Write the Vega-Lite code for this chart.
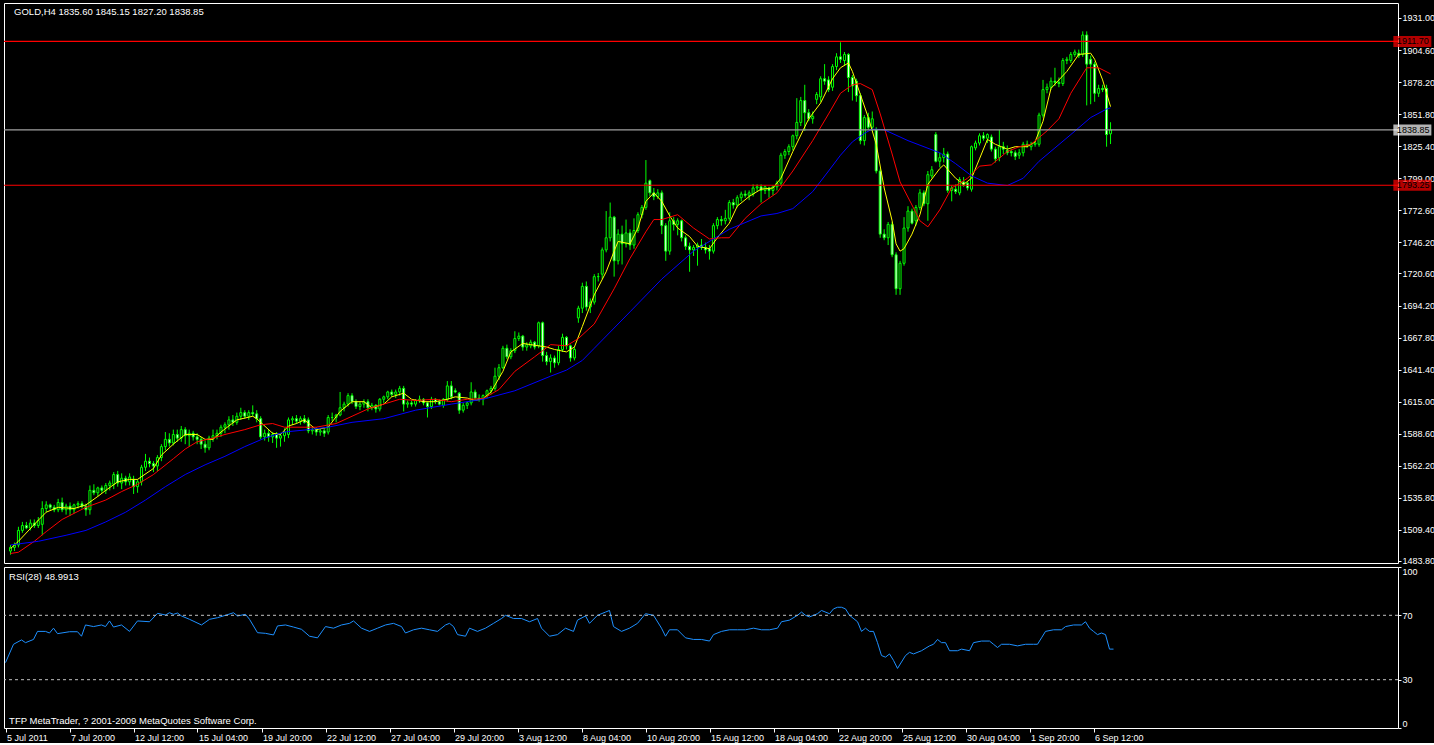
{
"$schema": "https://vega.github.io/schema/vega-lite/v6.json",
"background": "black",
"padding": {"left": 2, "top": 2, "right": 0, "bottom": 0},
"bounds": "flush",
"spacing": 4,
"config": {
 "view": {"stroke": "white", "strokeWidth": 1},
 "font": "Liberation Sans",
 "axis": {"grid": false, "domain": false, "labelColor": "white", "tickColor": "white", "labelFont": "Liberation Sans", "labelFontSize": 9, "labelOverlap": false, "labelBound": false}
},
"datasets": {
"bars": [
{"k":0,"o":1492,"h":1497,"l":1489,"c":1495},{"k":1,"o":1495,"h":1499,"l":1492,"c":1497},{"k":2,"o":1497,"h":1512,"l":1495,"c":1509},{"k":3,"o":1509,"h":1516,"l":1507,"c":1513},{"k":4,"o":1513,"h":1516,"l":1510,"c":1511},{"k":5,"o":1511,"h":1518,"l":1509,"c":1515},{"k":6,"o":1515,"h":1518,"l":1511,"c":1513},{"k":7,"o":1513,"h":1520,"l":1511,"c":1517},{"k":8,"o":1514,"h":1533,"l":1505,"c":1527},{"k":9,"o":1527,"h":1533,"l":1524,"c":1530},
{"k":10,"o":1530,"h":1531,"l":1526,"c":1528},{"k":11,"o":1528,"h":1530,"l":1524,"c":1526},{"k":12,"o":1526,"h":1535,"l":1524,"c":1532},{"k":13,"o":1532,"h":1536,"l":1524,"c":1526},{"k":14,"o":1526,"h":1531,"l":1522,"c":1529},{"k":15,"o":1529,"h":1532,"l":1521,"c":1526},{"k":16,"o":1526,"h":1531,"l":1523,"c":1530},{"k":17,"o":1530,"h":1533,"l":1527,"c":1531},{"k":18,"o":1531,"h":1533,"l":1527,"c":1529},{"k":19,"o":1529,"h":1531,"l":1521,"c":1526},
{"k":20,"o":1526,"h":1546,"l":1522,"c":1542},{"k":21,"o":1542,"h":1547,"l":1538,"c":1540},{"k":22,"o":1540,"h":1545,"l":1537,"c":1544},{"k":23,"o":1544,"h":1546,"l":1540,"c":1542},{"k":24,"o":1542,"h":1548,"l":1539,"c":1546},{"k":25,"o":1546,"h":1550,"l":1542,"c":1548},{"k":26,"o":1547,"h":1557,"l":1543,"c":1555},{"k":27,"o":1555,"h":1558,"l":1545,"c":1548},{"k":28,"o":1548,"h":1556,"l":1543,"c":1552},{"k":29,"o":1552,"h":1554,"l":1546,"c":1549},
{"k":30,"o":1549,"h":1556,"l":1546,"c":1553},{"k":31,"o":1551,"h":1554,"l":1539,"c":1545},{"k":32,"o":1545,"h":1551,"l":1540,"c":1549},{"k":33,"o":1549,"h":1563,"l":1546,"c":1561},{"k":34,"o":1561,"h":1572,"l":1558,"c":1566},{"k":35,"o":1566,"h":1569,"l":1561,"c":1564},{"k":36,"o":1564,"h":1566,"l":1557,"c":1562},{"k":37,"o":1562,"h":1571,"l":1558,"c":1569},{"k":38,"o":1569,"h":1580,"l":1566,"c":1578},{"k":39,"o":1578,"h":1590,"l":1575,"c":1584},
{"k":40,"o":1584,"h":1589,"l":1578,"c":1581},{"k":41,"o":1581,"h":1592,"l":1579,"c":1588},{"k":42,"o":1588,"h":1592,"l":1582,"c":1585},{"k":43,"o":1585,"h":1595,"l":1582,"c":1592},{"k":44,"o":1592,"h":1594,"l":1580,"c":1587},{"k":45,"o":1587,"h":1592,"l":1578,"c":1589},{"k":46,"o":1589,"h":1591,"l":1583,"c":1586},{"k":47,"o":1586,"h":1589,"l":1580,"c":1584},{"k":48,"o":1584,"h":1586,"l":1576,"c":1580},{"k":49,"o":1580,"h":1583,"l":1573,"c":1577},
{"k":50,"o":1577,"h":1587,"l":1575,"c":1585},{"k":51,"o":1585,"h":1592,"l":1582,"c":1587},{"k":52,"o":1587,"h":1592,"l":1584,"c":1589},{"k":53,"o":1589,"h":1596,"l":1586,"c":1594},{"k":54,"o":1594,"h":1598,"l":1589,"c":1596},{"k":55,"o":1596,"h":1603,"l":1592,"c":1600},{"k":56,"o":1600,"h":1604,"l":1595,"c":1598},{"k":57,"o":1598,"h":1606,"l":1596,"c":1603},{"k":58,"o":1603,"h":1610,"l":1600,"c":1606},{"k":59,"o":1606,"h":1608,"l":1601,"c":1603},
{"k":60,"o":1603,"h":1608,"l":1600,"c":1606},{"k":61,"o":1606,"h":1612,"l":1603,"c":1605},{"k":62,"o":1605,"h":1608,"l":1598,"c":1601},{"k":63,"o":1601,"h":1603,"l":1584,"c":1586},{"k":64,"o":1586,"h":1592,"l":1583,"c":1589},{"k":65,"o":1589,"h":1592,"l":1582,"c":1586},{"k":66,"o":1586,"h":1590,"l":1581,"c":1588},{"k":67,"o":1588,"h":1590,"l":1577,"c":1585},{"k":68,"o":1585,"h":1589,"l":1578,"c":1587},{"k":69,"o":1587,"h":1593,"l":1582,"c":1590},
{"k":70,"o":1588,"h":1602,"l":1585,"c":1600},{"k":71,"o":1600,"h":1603,"l":1596,"c":1601},{"k":72,"o":1601,"h":1604,"l":1597,"c":1599},{"k":73,"o":1599,"h":1603,"l":1596,"c":1601},{"k":74,"o":1601,"h":1604,"l":1597,"c":1598},{"k":75,"o":1600,"h":1602,"l":1589,"c":1591},{"k":76,"o":1591,"h":1594,"l":1588,"c":1592},{"k":77,"o":1592,"h":1594,"l":1587,"c":1590},{"k":78,"o":1590,"h":1593,"l":1587,"c":1591},{"k":79,"o":1591,"h":1593,"l":1586,"c":1589},
{"k":80,"o":1590,"h":1604,"l":1588,"c":1602},{"k":81,"o":1602,"h":1606,"l":1599,"c":1602},{"k":82,"o":1602,"h":1605,"l":1598,"c":1604},{"k":83,"o":1604,"h":1623,"l":1603,"c":1610},{"k":84,"o":1610,"h":1615,"l":1607,"c":1613},{"k":85,"o":1613,"h":1622,"l":1611,"c":1620},{"k":86,"o":1620,"h":1622,"l":1613,"c":1615},{"k":87,"o":1615,"h":1617,"l":1609,"c":1611},{"k":88,"o":1611,"h":1615,"l":1608,"c":1613},{"k":89,"o":1613,"h":1617,"l":1610,"c":1615},
{"k":90,"o":1615,"h":1617,"l":1607,"c":1610},{"k":91,"o":1610,"h":1614,"l":1608,"c":1612},{"k":92,"o":1612,"h":1613,"l":1606,"c":1609},{"k":93,"o":1609,"h":1618,"l":1607,"c":1617},{"k":94,"o":1617,"h":1620,"l":1614,"c":1619},{"k":95,"o":1619,"h":1624,"l":1617,"c":1623},{"k":96,"o":1623,"h":1625,"l":1619,"c":1621},{"k":97,"o":1621,"h":1625,"l":1618,"c":1623},{"k":98,"o":1623,"h":1628,"l":1620,"c":1626},{"k":99,"o":1626,"h":1628,"l":1607,"c":1613},
{"k":100,"o":1613,"h":1616,"l":1610,"c":1614},{"k":101,"o":1614,"h":1616,"l":1611,"c":1613},{"k":102,"o":1613,"h":1617,"l":1611,"c":1616},{"k":103,"o":1616,"h":1620,"l":1614,"c":1617},{"k":104,"o":1617,"h":1618,"l":1612,"c":1614},{"k":105,"o":1614,"h":1615,"l":1602,"c":1611},{"k":106,"o":1611,"h":1619,"l":1609,"c":1617},{"k":107,"o":1617,"h":1618,"l":1613,"c":1615},{"k":108,"o":1615,"h":1617,"l":1612,"c":1613},{"k":109,"o":1612,"h":1618,"l":1610,"c":1617},
{"k":110,"o":1617,"h":1632,"l":1615,"c":1628},{"k":111,"o":1628,"h":1632,"l":1617,"c":1619},{"k":112,"o":1624,"h":1626,"l":1622,"c":1623},{"k":113,"o":1622,"h":1623,"l":1605,"c":1608},{"k":114,"o":1608,"h":1614,"l":1606,"c":1612},{"k":115,"o":1612,"h":1615,"l":1609,"c":1614},{"k":116,"o":1614,"h":1631,"l":1612,"c":1623},{"k":117,"o":1623,"h":1625,"l":1616,"c":1618},{"k":118,"o":1618,"h":1621,"l":1615,"c":1617},{"k":119,"o":1617,"h":1621,"l":1612,"c":1620},
{"k":120,"o":1620,"h":1625,"l":1618,"c":1624},{"k":121,"o":1624,"h":1628,"l":1621,"c":1626},{"k":122,"o":1626,"h":1643,"l":1624,"c":1636},{"k":123,"o":1636,"h":1646,"l":1633,"c":1643},{"k":124,"o":1643,"h":1661,"l":1642,"c":1659},{"k":125,"o":1659,"h":1662,"l":1650,"c":1652},{"k":126,"o":1652,"h":1659,"l":1650,"c":1657},{"k":127,"o":1657,"h":1673,"l":1655,"c":1667},{"k":128,"o":1667,"h":1672,"l":1665,"c":1669},{"k":129,"o":1669,"h":1670,"l":1657,"c":1660},
{"k":130,"o":1660,"h":1664,"l":1657,"c":1662},{"k":131,"o":1661,"h":1666,"l":1659,"c":1664},{"k":132,"o":1664,"h":1665,"l":1658,"c":1660},{"k":133,"o":1661,"h":1681,"l":1659,"c":1680},{"k":134,"o":1680,"h":1681,"l":1648,"c":1653},{"k":135,"o":1653,"h":1656,"l":1645,"c":1648},{"k":136,"o":1648,"h":1654,"l":1639,"c":1651},{"k":137,"o":1651,"h":1653,"l":1643,"c":1647},{"k":138,"o":1647,"h":1661,"l":1645,"c":1658},{"k":139,"o":1658,"h":1671,"l":1656,"c":1668},
{"k":140,"o":1668,"h":1669,"l":1658,"c":1661},{"k":141,"o":1661,"h":1662,"l":1648,"c":1651},{"k":142,"o":1651,"h":1660,"l":1649,"c":1658},{"k":143,"o":1684,"h":1694,"l":1680,"c":1692},{"k":144,"o":1692,"h":1713,"l":1688,"c":1710},{"k":145,"o":1710,"h":1714,"l":1690,"c":1693},{"k":146,"o":1693,"h":1700,"l":1688,"c":1697},{"k":147,"o":1697,"h":1720,"l":1695,"c":1718},{"k":148,"o":1718,"h":1721,"l":1714,"c":1718},{"k":149,"o":1720,"h":1742,"l":1716,"c":1740},
{"k":150,"o":1740,"h":1772,"l":1738,"c":1750},{"k":151,"o":1750,"h":1779,"l":1747,"c":1767},{"k":152,"o":1767,"h":1768,"l":1718,"c":1731},{"k":153,"o":1731,"h":1757,"l":1728,"c":1753},{"k":154,"o":1753,"h":1760,"l":1728,"c":1745},{"k":155,"o":1745,"h":1765,"l":1742,"c":1754},{"k":156,"o":1754,"h":1757,"l":1740,"c":1744},{"k":157,"o":1744,"h":1766,"l":1741,"c":1756},{"k":158,"o":1756,"h":1771,"l":1754,"c":1769},{"k":159,"o":1769,"h":1777,"l":1766,"c":1775},
{"k":160,"o":1775,"h":1814,"l":1773,"c":1795},{"k":161,"o":1797,"h":1798,"l":1784,"c":1787},{"k":162,"o":1787,"h":1791,"l":1781,"c":1784},{"k":163,"o":1784,"h":1790,"l":1782,"c":1787},{"k":164,"o":1787,"h":1789,"l":1753,"c":1760},{"k":165,"o":1760,"h":1762,"l":1731,"c":1739},{"k":166,"o":1739,"h":1771,"l":1736,"c":1764},{"k":167,"o":1764,"h":1767,"l":1756,"c":1761},{"k":168,"o":1761,"h":1766,"l":1752,"c":1764},{"k":169,"o":1764,"h":1765,"l":1747,"c":1750},
{"k":170,"o":1750,"h":1752,"l":1740,"c":1743},{"k":171,"o":1743,"h":1746,"l":1722,"c":1740},{"k":172,"o":1740,"h":1744,"l":1735,"c":1742},{"k":173,"o":1742,"h":1746,"l":1727,"c":1744},{"k":174,"o":1744,"h":1749,"l":1740,"c":1742},{"k":175,"o":1742,"h":1746,"l":1737,"c":1740},{"k":176,"o":1741,"h":1744,"l":1732,"c":1739},{"k":177,"o":1739,"h":1762,"l":1737,"c":1760},{"k":178,"o":1760,"h":1767,"l":1757,"c":1765},{"k":179,"o":1765,"h":1768,"l":1760,"c":1764},
{"k":180,"o":1764,"h":1773,"l":1761,"c":1766},{"k":181,"o":1766,"h":1781,"l":1764,"c":1779},{"k":182,"o":1779,"h":1782,"l":1774,"c":1777},{"k":183,"o":1777,"h":1785,"l":1775,"c":1783},{"k":184,"o":1783,"h":1788,"l":1780,"c":1786},{"k":185,"o":1786,"h":1789,"l":1783,"c":1785},{"k":186,"o":1785,"h":1789,"l":1781,"c":1787},{"k":187,"o":1786,"h":1794,"l":1784,"c":1791},{"k":188,"o":1791,"h":1794,"l":1788,"c":1792},{"k":189,"o":1792,"h":1794,"l":1779,"c":1789},
{"k":190,"o":1789,"h":1793,"l":1786,"c":1792},{"k":191,"o":1791,"h":1792,"l":1783,"c":1789},{"k":192,"o":1789,"h":1793,"l":1785,"c":1792},{"k":193,"o":1792,"h":1797,"l":1789,"c":1795},{"k":194,"o":1795,"h":1820,"l":1793,"c":1818},{"k":195,"o":1818,"h":1823,"l":1815,"c":1821},{"k":196,"o":1821,"h":1827,"l":1818,"c":1825},{"k":197,"o":1825,"h":1835,"l":1822,"c":1834},{"k":198,"o":1834,"h":1865,"l":1831,"c":1845},{"k":199,"o":1845,"h":1866,"l":1842,"c":1863},
{"k":200,"o":1863,"h":1876,"l":1838,"c":1853},{"k":201,"o":1853,"h":1856,"l":1846,"c":1848},{"k":202,"o":1848,"h":1854,"l":1844,"c":1850},{"k":203,"o":1864,"h":1870,"l":1860,"c":1868},{"k":204,"o":1866,"h":1883,"l":1862,"c":1881},{"k":205,"o":1881,"h":1893,"l":1876,"c":1879},{"k":206,"o":1880,"h":1883,"l":1870,"c":1872},{"k":207,"o":1874,"h":1893,"l":1871,"c":1891},{"k":208,"o":1891,"h":1902,"l":1888,"c":1899},{"k":209,"o":1899,"h":1911,"l":1894,"c":1897},
{"k":210,"o":1896,"h":1903,"l":1892,"c":1901},{"k":211,"o":1901,"h":1902,"l":1870,"c":1882},{"k":212,"o":1882,"h":1884,"l":1863,"c":1875},{"k":213,"o":1879,"h":1881,"l":1862,"c":1867},{"k":214,"o":1867,"h":1869,"l":1827,"c":1830},{"k":215,"o":1830,"h":1851,"l":1826,"c":1849},{"k":216,"o":1849,"h":1853,"l":1839,"c":1841},{"k":217,"o":1841,"h":1854,"l":1838,"c":1848},{"k":218,"o":1839,"h":1841,"l":1803,"c":1805},{"k":219,"o":1805,"h":1807,"l":1750,"c":1753},
{"k":220,"o":1753,"h":1757,"l":1748,"c":1750},{"k":221,"o":1750,"h":1763,"l":1744,"c":1761},{"k":222,"o":1761,"h":1763,"l":1734,"c":1736},{"k":223,"o":1736,"h":1738,"l":1703,"c":1708},{"k":224,"o":1708,"h":1731,"l":1703,"c":1729},{"k":225,"o":1729,"h":1767,"l":1727,"c":1758},{"k":226,"o":1758,"h":1776,"l":1755,"c":1772},{"k":227,"o":1772,"h":1774,"l":1761,"c":1762},{"k":228,"o":1764,"h":1777,"l":1760,"c":1775},{"k":229,"o":1775,"h":1790,"l":1773,"c":1787},
{"k":230,"o":1787,"h":1789,"l":1776,"c":1778},{"k":231,"o":1778,"h":1805,"l":1764,"c":1802},{"k":232,"o":1801,"h":1809,"l":1799,"c":1806},{"k":233,"o":1835,"h":1837,"l":1812,"c":1813},{"k":234,"o":1813,"h":1820,"l":1808,"c":1816},{"k":235,"o":1816,"h":1824,"l":1812,"c":1819},{"k":236,"o":1819,"h":1821,"l":1787,"c":1789},{"k":237,"o":1789,"h":1793,"l":1780,"c":1791},{"k":238,"o":1790,"h":1794,"l":1786,"c":1788},{"k":239,"o":1787,"h":1800,"l":1785,"c":1798},
{"k":240,"o":1796,"h":1800,"l":1792,"c":1793},{"k":241,"o":1795,"h":1796,"l":1789,"c":1791},{"k":242,"o":1790,"h":1826,"l":1788,"c":1825},{"k":243,"o":1824,"h":1830,"l":1822,"c":1828},{"k":244,"o":1828,"h":1836,"l":1826,"c":1834},{"k":245,"o":1834,"h":1837,"l":1830,"c":1832},{"k":246,"o":1832,"h":1836,"l":1828,"c":1835},{"k":247,"o":1833,"h":1835,"l":1821,"c":1823},{"k":248,"o":1823,"h":1825,"l":1812,"c":1815},{"k":249,"o":1816,"h":1839,"l":1813,"c":1825},
{"k":250,"o":1825,"h":1829,"l":1819,"c":1823},{"k":251,"o":1822,"h":1826,"l":1818,"c":1820},{"k":252,"o":1821,"h":1823,"l":1817,"c":1820},{"k":253,"o":1820,"h":1822,"l":1814,"c":1817},{"k":254,"o":1818,"h":1823,"l":1815,"c":1820},{"k":255,"o":1820,"h":1829,"l":1817,"c":1827},{"k":256,"o":1827,"h":1830,"l":1824,"c":1826},{"k":257,"o":1825,"h":1829,"l":1822,"c":1827},{"k":258,"o":1827,"h":1830,"l":1825,"c":1828},{"k":259,"o":1827,"h":1853,"l":1825,"c":1851},
{"k":260,"o":1851,"h":1880,"l":1849,"c":1872},{"k":261,"o":1872,"h":1877,"l":1869,"c":1874},{"k":262,"o":1874,"h":1882,"l":1872,"c":1879},{"k":263,"o":1879,"h":1890,"l":1875,"c":1878},{"k":264,"o":1878,"h":1882,"l":1874,"c":1877},{"k":265,"o":1877,"h":1898,"l":1875,"c":1896},{"k":266,"o":1896,"h":1899,"l":1893,"c":1897},{"k":267,"o":1896,"h":1903,"l":1894,"c":1901},{"k":268,"o":1901,"h":1905,"l":1899,"c":1903},{"k":269,"o":1902,"h":1905,"l":1898,"c":1900},
{"k":270,"o":1901,"h":1920,"l":1899,"c":1917},{"k":271,"o":1917,"h":1920,"l":1859,"c":1893},{"k":272,"o":1897,"h":1900,"l":1860,"c":1893},{"k":273,"o":1893,"h":1895,"l":1862,"c":1869},{"k":274,"o":1869,"h":1876,"l":1866,"c":1873},{"k":275,"o":1873,"h":1876,"l":1870,"c":1872},{"k":276,"o":1873,"h":1876,"l":1825,"c":1835},{"k":277,"o":1835.6,"h":1845.15,"l":1827.2,"c":1838.85}
],
"ma": [
{"k":0,"line":"fast","v":1494},{"k":2,"line":"fast","v":1500},{"k":6,"line":"fast","v":1514},{"k":9,"line":"fast","v":1524},{"k":12,"line":"fast","v":1528},{"k":16,"line":"fast","v":1527},{"k":19,"line":"fast","v":1530},{"k":22,"line":"fast","v":1537},{"k":24,"line":"fast","v":1542},{"k":27,"line":"fast","v":1549},{"k":30,"line":"fast","v":1551},{"k":32,"line":"fast","v":1551},{"k":36,"line":"fast","v":1560},{"k":38,"line":"fast","v":1571},{"k":41,"line":"fast","v":1580},{"k":44,"line":"fast","v":1588},{"k":47,"line":"fast","v":1588},{"k":49,"line":"fast","v":1584},{"k":51,"line":"fast","v":1584},{"k":53,"line":"fast","v":1590},{"k":57,"line":"fast","v":1600},{"k":61,"line":"fast","v":1603},{"k":62,"line":"fast","v":1601},{"k":66,"line":"fast","v":1589},{"k":68,"line":"fast","v":1588},{"k":70,"line":"fast","v":1595},{"k":72,"line":"fast","v":1597},{"k":74,"line":"fast","v":1600},{"k":77,"line":"fast","v":1592},{"k":80,"line":"fast","v":1594},{"k":83,"line":"fast","v":1607},{"k":86,"line":"fast","v":1615},{"k":89,"line":"fast","v":1615},{"k":91,"line":"fast","v":1610},{"k":94,"line":"fast","v":1613},{"k":96,"line":"fast","v":1619},{"k":99,"line":"fast","v":1622},{"k":101,"line":"fast","v":1617},{"k":104,"line":"fast","v":1615},{"k":107,"line":"fast","v":1615},{"k":110,"line":"fast","v":1617},{"k":112,"line":"fast","v":1619},{"k":115,"line":"fast","v":1618},{"k":117,"line":"fast","v":1616},{"k":119,"line":"fast","v":1617.5},{"k":121,"line":"fast","v":1623},{"k":124,"line":"fast","v":1640},{"k":126,"line":"fast","v":1656},{"k":129,"line":"fast","v":1663},{"k":131,"line":"fast","v":1662},{"k":135,"line":"fast","v":1660},{"k":137,"line":"fast","v":1658},{"k":140,"line":"fast","v":1656},{"k":142,"line":"fast","v":1660},{"k":144,"line":"fast","v":1677},{"k":147,"line":"fast","v":1703},{"k":150,"line":"fast","v":1722},{"k":152,"line":"fast","v":1739},{"k":153,"line":"fast","v":1747},{"k":156,"line":"fast","v":1745},{"k":158,"line":"fast","v":1758},{"k":160,"line":"fast","v":1780},{"k":162,"line":"fast","v":1787},{"k":164,"line":"fast","v":1780},{"k":166,"line":"fast","v":1768},{"k":168,"line":"fast","v":1758},{"k":171,"line":"fast","v":1751},{"k":173,"line":"fast","v":1743},{"k":176,"line":"fast","v":1741},{"k":178,"line":"fast","v":1750},{"k":181,"line":"fast","v":1762},{"k":183,"line":"fast","v":1776},{"k":186,"line":"fast","v":1784},{"k":189,"line":"fast","v":1790},{"k":192,"line":"fast","v":1791},{"k":194,"line":"fast","v":1799},{"k":197,"line":"fast","v":1821},{"k":201,"line":"fast","v":1848},{"k":204,"line":"fast","v":1861},{"k":207,"line":"fast","v":1881},{"k":209,"line":"fast","v":1890},{"k":211,"line":"fast","v":1894},{"k":212,"line":"fast","v":1887},{"k":214,"line":"fast","v":1868},{"k":216,"line":"fast","v":1849},{"k":218,"line":"fast","v":1827},{"k":220,"line":"fast","v":1791},{"k":222,"line":"fast","v":1764},{"k":223,"line":"fast","v":1745},{"k":224,"line":"fast","v":1739},{"k":225,"line":"fast","v":1741},{"k":227,"line":"fast","v":1753},{"k":229,"line":"fast","v":1769},{"k":231,"line":"fast","v":1794},{"k":234,"line":"fast","v":1807},{"k":235,"line":"fast","v":1810},{"k":238,"line":"fast","v":1799},{"k":240,"line":"fast","v":1794},{"k":242,"line":"fast","v":1799},{"k":244,"line":"fast","v":1815},{"k":246,"line":"fast","v":1831},{"k":248,"line":"fast","v":1827},{"k":251,"line":"fast","v":1823},{"k":253,"line":"fast","v":1825},{"k":256,"line":"fast","v":1825},{"k":258,"line":"fast","v":1829},{"k":260,"line":"fast","v":1846},{"k":262,"line":"fast","v":1873},{"k":266,"line":"fast","v":1887},{"k":269,"line":"fast","v":1901},{"k":272,"line":"fast","v":1902},{"k":273,"line":"fast","v":1897},{"k":275,"line":"fast","v":1880},{"k":277,"line":"fast","v":1858},
{"k":0,"line":"mid","v":1490},{"k":2,"line":"mid","v":1491},{"k":6,"line":"mid","v":1500},{"k":9,"line":"mid","v":1508},{"k":13,"line":"mid","v":1518},{"k":16,"line":"mid","v":1523},{"k":19,"line":"mid","v":1528},{"k":24,"line":"mid","v":1534},{"k":28,"line":"mid","v":1541},{"k":32,"line":"mid","v":1547},{"k":36,"line":"mid","v":1555},{"k":41,"line":"mid","v":1568},{"k":44,"line":"mid","v":1576},{"k":47,"line":"mid","v":1582},{"k":51,"line":"mid","v":1585},{"k":54,"line":"mid","v":1588},{"k":59,"line":"mid","v":1592},{"k":63,"line":"mid","v":1596},{"k":66,"line":"mid","v":1597},{"k":69,"line":"mid","v":1594},{"k":77,"line":"mid","v":1594},{"k":82,"line":"mid","v":1597},{"k":86,"line":"mid","v":1603},{"k":90,"line":"mid","v":1609},{"k":94,"line":"mid","v":1613},{"k":98,"line":"mid","v":1617},{"k":102,"line":"mid","v":1616},{"k":107,"line":"mid","v":1617},{"k":111,"line":"mid","v":1615},{"k":115,"line":"mid","v":1617},{"k":119,"line":"mid","v":1617.5},{"k":123,"line":"mid","v":1625},{"k":127,"line":"mid","v":1640},{"k":132,"line":"mid","v":1652},{"k":136,"line":"mid","v":1662},{"k":140,"line":"mid","v":1661},{"k":143,"line":"mid","v":1667},{"k":147,"line":"mid","v":1679},{"k":152,"line":"mid","v":1708},{"k":156,"line":"mid","v":1733},{"k":160,"line":"mid","v":1755},{"k":162,"line":"mid","v":1765},{"k":164,"line":"mid","v":1765},{"k":168,"line":"mid","v":1769},{"k":172,"line":"mid","v":1758},{"k":176,"line":"mid","v":1749},{"k":179,"line":"mid","v":1750},{"k":181,"line":"mid","v":1750},{"k":185,"line":"mid","v":1766},{"k":189,"line":"mid","v":1778},{"k":193,"line":"mid","v":1787},{"k":197,"line":"mid","v":1805},{"k":202,"line":"mid","v":1830},{"k":206,"line":"mid","v":1852},{"k":209,"line":"mid","v":1869},{"k":212,"line":"mid","v":1876},{"k":214,"line":"mid","v":1877},{"k":217,"line":"mid","v":1872},{"k":219,"line":"mid","v":1852},{"k":222,"line":"mid","v":1819},{"k":224,"line":"mid","v":1796},{"k":227,"line":"mid","v":1777},{"k":229,"line":"mid","v":1764},{"k":231,"line":"mid","v":1759},{"k":234,"line":"mid","v":1773},{"k":237,"line":"mid","v":1791},{"k":241,"line":"mid","v":1799},{"k":244,"line":"mid","v":1809},{"k":247,"line":"mid","v":1810},{"k":251,"line":"mid","v":1821},{"k":254,"line":"mid","v":1825},{"k":257,"line":"mid","v":1827},{"k":261,"line":"mid","v":1838},{"k":264,"line":"mid","v":1848},{"k":267,"line":"mid","v":1869},{"k":271,"line":"mid","v":1890},{"k":274,"line":"mid","v":1890},{"k":277,"line":"mid","v":1885},
{"k":0,"line":"slow","v":1497},{"k":7,"line":"slow","v":1500},{"k":14,"line":"slow","v":1505},{"k":19,"line":"slow","v":1509},{"k":24,"line":"slow","v":1516},{"k":29,"line":"slow","v":1524},{"k":34,"line":"slow","v":1534},{"k":39,"line":"slow","v":1545},{"k":44,"line":"slow","v":1555},{"k":49,"line":"slow","v":1563},{"k":54,"line":"slow","v":1570},{"k":59,"line":"slow","v":1578},{"k":64,"line":"slow","v":1585},{"k":69,"line":"slow","v":1590},{"k":75,"line":"slow","v":1592},{"k":80,"line":"slow","v":1594},{"k":86,"line":"slow","v":1598},{"k":94,"line":"slow","v":1601},{"k":102,"line":"slow","v":1608},{"k":111,"line":"slow","v":1613},{"k":119,"line":"slow","v":1617},{"k":127,"line":"slow","v":1624},{"k":136,"line":"slow","v":1636},{"k":140,"line":"slow","v":1641},{"k":144,"line":"slow","v":1649},{"k":147,"line":"slow","v":1659},{"k":156,"line":"slow","v":1689},{"k":164,"line":"slow","v":1716},{"k":172,"line":"slow","v":1739},{"k":177,"line":"slow","v":1749},{"k":181,"line":"slow","v":1757},{"k":189,"line":"slow","v":1768},{"k":193,"line":"slow","v":1770},{"k":197,"line":"slow","v":1774},{"k":202,"line":"slow","v":1788},{"k":206,"line":"slow","v":1805},{"k":209,"line":"slow","v":1818},{"k":212,"line":"slow","v":1829},{"k":215,"line":"slow","v":1836},{"k":217,"line":"slow","v":1839.5},{"k":220,"line":"slow","v":1839},{"k":226,"line":"slow","v":1830},{"k":234,"line":"slow","v":1820},{"k":238,"line":"slow","v":1811},{"k":242,"line":"slow","v":1801},{"k":246,"line":"slow","v":1795},{"k":251,"line":"slow","v":1793},{"k":255,"line":"slow","v":1799},{"k":259,"line":"slow","v":1813},{"k":263,"line":"slow","v":1824},{"k":267,"line":"slow","v":1835},{"k":272,"line":"slow","v":1849},{"k":276,"line":"slow","v":1856},{"k":277,"line":"slow","v":1857}
],
"rsi": [
{"k":0,"r":40.6},{"k":2,"r":52},{"k":4,"r":54.7},{"k":5,"r":53},{"k":7,"r":55},{"k":8,"r":60},{"k":10,"r":60},{"k":11,"r":59},{"k":12,"r":62},{"k":13,"r":58.6},{"k":16,"r":59.8},{"k":18,"r":59.8},{"k":19,"r":57},{"k":20,"r":64},{"k":22,"r":63},{"k":24,"r":64},{"k":25,"r":63},{"k":26,"r":66.5},{"k":27,"r":62.7},{"k":29,"r":64},{"k":31,"r":60},{"k":33,"r":66.5},{"k":36,"r":66},{"k":38,"r":71.2},{"k":40,"r":70.2},{"k":41,"r":71.6},{"k":42,"r":70.6},{"k":43,"r":71.4},{"k":44,"r":69.6},{"k":46,"r":67.5},{"k":49,"r":64},{"k":51,"r":67.5},{"k":53,"r":68.5},{"k":55,"r":70},{"k":57,"r":71.6},{"k":58,"r":69.6},{"k":60,"r":70.6},{"k":61,"r":67.5},{"k":63,"r":59.2},{"k":65,"r":58.8},{"k":67,"r":57.8},{"k":68,"r":63.4},{"k":70,"r":64},{"k":72,"r":62.7},{"k":74,"r":61.3},{"k":76,"r":57},{"k":78,"r":56},{"k":80,"r":63},{"k":82,"r":62},{"k":84,"r":64},{"k":86,"r":65},{"k":87,"r":66.5},{"k":89,"r":62},{"k":91,"r":60},{"k":93,"r":62},{"k":95,"r":64},{"k":97,"r":65},{"k":99,"r":63},{"k":100,"r":59},{"k":102,"r":61},{"k":104,"r":62},{"k":106,"r":61},{"k":108,"r":60},{"k":110,"r":64},{"k":111,"r":65},{"k":112,"r":63},{"k":113,"r":58},{"k":115,"r":57},{"k":116,"r":62},{"k":118,"r":60},{"k":120,"r":62},{"k":122,"r":65},{"k":124,"r":68},{"k":125,"r":70},{"k":127,"r":68},{"k":129,"r":68},{"k":131,"r":66},{"k":133,"r":68},{"k":134,"r":62},{"k":136,"r":57},{"k":138,"r":58},{"k":140,"r":62},{"k":142,"r":60},{"k":143,"r":67},{"k":145,"r":69.6},{"k":146,"r":65},{"k":148,"r":70},{"k":150,"r":72},{"k":151,"r":73},{"k":152,"r":63},{"k":154,"r":60},{"k":156,"r":62},{"k":158,"r":65},{"k":160,"r":71},{"k":162,"r":70},{"k":164,"r":62},{"k":165,"r":57},{"k":166,"r":61},{"k":168,"r":61},{"k":170,"r":56},{"k":172,"r":55},{"k":174,"r":55},{"k":176,"r":54},{"k":177,"r":58},{"k":179,"r":60},{"k":181,"r":61},{"k":183,"r":61},{"k":185,"r":61},{"k":187,"r":62},{"k":189,"r":61},{"k":191,"r":61},{"k":193,"r":62},{"k":194,"r":66},{"k":196,"r":67},{"k":198,"r":70},{"k":199,"r":72},{"k":200,"r":70},{"k":201,"r":69},{"k":203,"r":71},{"k":204,"r":73},{"k":206,"r":71},{"k":207,"r":74},{"k":208,"r":75},{"k":209,"r":75},{"k":210,"r":74},{"k":211,"r":70},{"k":213,"r":66},{"k":214,"r":60},{"k":215,"r":62},{"k":216,"r":60},{"k":217,"r":60},{"k":218,"r":53},{"k":219,"r":45},{"k":220,"r":44},{"k":221,"r":46},{"k":222,"r":42},{"k":223,"r":37},{"k":224,"r":41},{"k":225,"r":45},{"k":226,"r":47},{"k":227,"r":46},{"k":229,"r":48},{"k":231,"r":51},{"k":232,"r":52},{"k":233,"r":55},{"k":234,"r":53},{"k":235,"r":53},{"k":236,"r":48},{"k":238,"r":48},{"k":239,"r":49},{"k":241,"r":48},{"k":242,"r":53},{"k":244,"r":54},{"k":246,"r":54},{"k":247,"r":52},{"k":248,"r":50},{"k":249,"r":52},{"k":251,"r":52},{"k":253,"r":51},{"k":255,"r":52},{"k":257,"r":52},{"k":258,"r":52},{"k":259,"r":56},{"k":260,"r":60},{"k":262,"r":61},{"k":264,"r":61},{"k":265,"r":63},{"k":267,"r":64},{"k":269,"r":64},{"k":270,"r":66},{"k":271,"r":62},{"k":272,"r":60},{"k":273,"r":58},{"k":274,"r":59},{"k":275,"r":58},{"k":276,"r":49},{"k":277,"r":49}
],
"lv": [{"p":1911.70,"kind":"level"},{"p":1838.85,"kind":"bid"},{"p":1793.25,"kind":"level"}]
},
"vconcat": [
{
 "width": 1394, "height": 560,
 "resolve": {"axis": {"y": "independent", "x": "independent"}},
 "layer": [
  {"data": {"name": "bars"}, "mark": {"type": "rule", "color": "#00FF00", "strokeWidth": 1},
   "encoding": {
    "x": {"field": "k", "type": "quantitative", "scale": {"domain": [-0.375, 348.125], "nice": false, "zero": false}, "axis": null},
    "y": {"field": "l", "type": "quantitative", "scale": {"domain": [1482.15, 1943.35], "nice": false, "zero": false},
     "axis": {"orient": "right", "title": null, "values": [1483.8,1509.4,1535.8,1562.2,1588.6,1615,1641.4,1667.8,1694.2,1720.6,1746.2,1772.6,1799,1825.4,1851.8,1878.2,1904.6,1931], "format": ".2f", "tickSize": 3, "labelPadding": 1, "labelOverlap": false, "labelFontSize": 9}},
    "y2": {"field": "h"}}},
  {"data": {"name": "bars"}, "mark": {"type": "bar", "width": 2, "stroke": "#00FF00", "strokeWidth": 1},
   "encoding": {
    "x": {"field": "k", "type": "quantitative", "axis": null},
    "y": {"field": "o", "type": "quantitative", "axis": null},
    "y2": {"field": "c"},
    "fill": {"condition": {"test": "datum.o > datum.c", "value": "white"}, "value": "black"}}},
  {"data": {"name": "ma"}, "mark": {"type": "line", "strokeWidth": 1},
   "encoding": {
    "x": {"field": "k", "type": "quantitative", "axis": null},
    "y": {"field": "v", "type": "quantitative", "axis": null},
    "color": {"field": "line", "type": "nominal", "scale": {"domain": ["fast","mid","slow"], "range": ["#FFFF00","#FF0000","#0000FF"]}, "legend": null}}},
  {"data": {"name": "lv"}, "mark": {"type": "rule", "strokeWidth": 1.2},
   "encoding": {
    "y": {"field": "p", "type": "quantitative", "axis": null},
    "stroke": {"field": "kind", "type": "nominal", "scale": {"domain": ["level","bid"], "range": ["#FF0000","#A0A0A0"]}, "legend": null}}},
  {"data": {"name": "lv"}, "mark": {"type": "tick", "orient": "horizontal", "size": 38, "thickness": 11},
   "encoding": {
    "x": {"datum": 353, "type": "quantitative", "axis": null},
    "y": {"field": "p", "type": "quantitative", "axis": null},
    "fill": {"field": "kind", "type": "nominal", "scale": {"domain": ["level","bid"], "range": ["#FF0000","#FFFFFF"]}, "legend": null}}},
  {"data": {"name": "lv"}, "mark": {"type": "text", "color": "black", "fontSize": 9, "align": "left", "baseline": "middle", "font": "Liberation Sans"},
   "encoding": {
    "x": {"datum": 349.1, "type": "quantitative", "axis": null},
    "y": {"field": "p", "type": "quantitative", "axis": null},
    "text": {"field": "p", "type": "quantitative", "format": ".2f"}}},
  {"data": {"values": [{"t": "GOLD,H4  1835.60 1845.15 1827.20 1838.85"}]}, "mark": {"type": "text", "color": "white", "fontSize": 9.5, "align": "left", "baseline": "middle", "font": "Liberation Sans"},
   "encoding": {
    "x": {"datum": 0.9, "type": "quantitative", "axis": null},
    "y": {"datum": 1936, "type": "quantitative", "axis": null},
    "text": {"field": "t"}}}
 ]
},
{
 "width": 1394, "height": 161,
 "resolve": {"axis": {"y": "independent", "x": "independent"}},
 "layer": [
  {"data": {"name": "rsi"}, "mark": {"type": "line", "color": "#1E90FF", "strokeWidth": 1},
   "encoding": {
    "x": {"field": "k", "type": "quantitative", "scale": {"domain": [-0.375, 348.125], "nice": false, "zero": false},
     "axis": {"orient": "bottom", "title": null, "values": [0,16,32,48,64,80,96,112,128,144,160,176,192,208,224,240,256,272],
      "labelExpr": "['5 Jul 2011','7 Jul 20:00','12 Jul 12:00','15 Jul 04:00','19 Jul 20:00','22 Jul 12:00','27 Jul 04:00','29 Jul 20:00','3 Aug 12:00','8 Aug 04:00','10 Aug 20:00','15 Aug 12:00','18 Aug 04:00','22 Aug 20:00','25 Aug 12:00','30 Aug 04:00','1 Sep 20:00','6 Sep 12:00'][round(datum.value/16)]",
      "labelAlign": "left", "labelFlush": false, "labelOverlap": false, "tickSize": 4, "labelPadding": 1, "labelOffset": 1, "labelFontSize": 9}},
    "y": {"field": "r", "type": "quantitative", "scale": {"domain": [0, 100], "nice": false, "zero": false},
     "axis": {"orient": "right", "title": null, "values": [0,30,70,100], "format": "d", "labelFlush": true, "labelOverlap": false, "tickSize": 3, "labelPadding": 1, "labelFontSize": 9}}}},
  {"data": {"values": [{"lvl": 30}, {"lvl": 70}]}, "mark": {"type": "rule", "color": "#C0C0C0", "strokeWidth": 1, "strokeDash": [3, 3]},
   "encoding": {"y": {"field": "lvl", "type": "quantitative", "axis": null}}},
  {"data": {"values": [{"t": "RSI(28) 48.9913", "pos": 94}, {"t": "TFP MetaTrader, ? 2001-2009 MetaQuotes Software Corp.", "pos": 4.3}]},
   "mark": {"type": "text", "color": "white", "fontSize": 9.5, "align": "left", "baseline": "middle", "font": "Liberation Sans"},
   "encoding": {
    "x": {"datum": 0.9, "type": "quantitative", "axis": null},
    "y": {"field": "pos", "type": "quantitative", "axis": null},
    "text": {"field": "t"}}}
 ]
}
]
}
